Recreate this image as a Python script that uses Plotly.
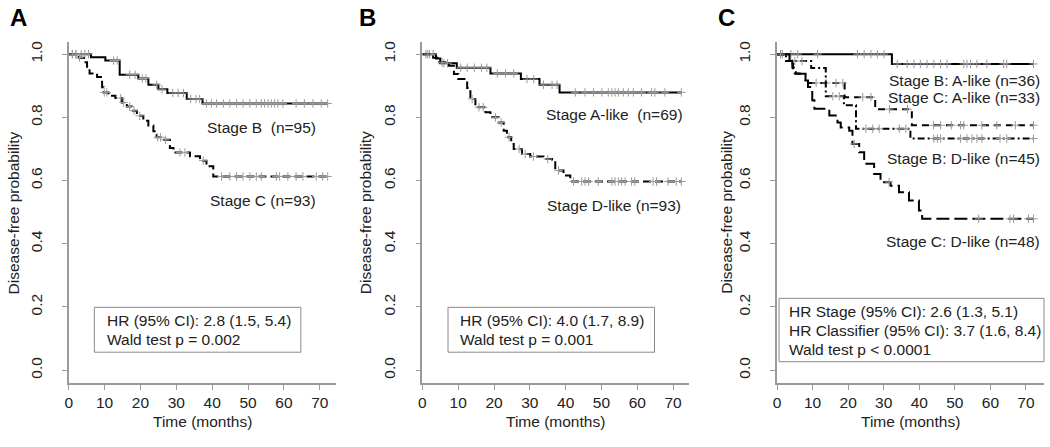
import plotly.graph_objects as go

W, H = 1050, 447
FONT = "Liberation Sans, Arial, sans-serif"
FS = 15.5

# ---------------- data ----------------
# Panel A
a_stageB_t = [6.2, 10.2, 14.2, 19.4, 22.2, 25.0, 27.5, 32.9, 37.3]
a_stageB_s = [0.990, 0.980, 0.935, 0.923, 0.903, 0.889, 0.877, 0.858, 0.844]
a_stageB_c = [1, 2, 3.5, 4.5, 5.5, 12.5, 13.5, 17, 18.5, 20.5, 21.5, 24.5, 26, 29, 30.5,
              32, 34, 35.5, 36.5, 38.4, 39.8, 41.2, 43.1, 44.9, 46.8, 48.6, 50.5, 52.3,
              53.7, 54.6, 55.6, 56.5, 57.4, 58.3, 59.7, 63.4, 65.7, 68.1, 70.4, 72.2]
a_stageC_t = [2.8, 4.2, 5.1, 5.8, 7.9, 9.3, 9.7, 11.1, 13.0, 14.8, 16.2, 17.6, 19.0, 20.8,
              22.2, 23.6, 24.5, 25.9, 28.2, 29.2, 33.8, 36.6, 38.4, 40.3]
a_stageC_s = [0.989, 0.974, 0.960, 0.939, 0.928, 0.895, 0.879, 0.868, 0.861, 0.847, 0.834,
              0.821, 0.805, 0.789, 0.774, 0.756, 0.737, 0.729, 0.703, 0.689, 0.677, 0.663,
              0.645, 0.613]
a_stageC_c = [1, 2, 3, 9.9, 10.6, 14.5, 15.3, 17, 18.2, 19.8, 24.8, 25.6, 27, 31, 32.4, 37.5,
              42.6, 44.9, 46.8, 48.6, 50.5, 52.3, 53.7, 57.9, 58.8, 61.1, 63.4, 65.3, 69,
              70.8, 72.2]
a_end = 72.2

# Panel B
b_alike_t = [3.8, 5.0, 9.6, 19.0, 27.5, 32.7, 38.3]
b_alike_s = [0.986, 0.971, 0.957, 0.939, 0.921, 0.903, 0.879]
b_alike_c = [1, 2, 3, 6, 7, 10.7, 12.5, 14.5, 16.5, 18, 20.9, 23.2, 25.5, 29.2, 31.1, 33.8,
             36.2, 37.6, 42.7, 45.4, 47.8, 50.1, 51.9, 52.9, 53.8, 54.7, 56.1, 57.5, 58.9,
             61.2, 64, 64.9, 67.7, 72.3]
b_dlike_t = [3.0, 4.2, 7.4, 8.8, 10.0, 12.5, 13.4, 14.8, 17.6, 19.0, 21.3, 22.7, 23.6, 24.8,
             25.5, 27.8, 30.1, 33.8, 36.2, 37.1, 39.4, 41.3]
b_dlike_s = [0.989, 0.974, 0.963, 0.937, 0.921, 0.893, 0.858, 0.832, 0.816, 0.800, 0.784,
             0.758, 0.737, 0.716, 0.700, 0.684, 0.676, 0.668, 0.658, 0.632, 0.616, 0.597]
b_dlike_c = [1.5, 5.5, 13.9, 15.8, 17.0, 20.4, 22.0, 24.2, 27, 28.7, 31, 35, 38, 42.2, 44.5,
             45.4, 46.4, 49.1, 52.9, 53.8, 54.7, 55.6, 56.6, 58.4, 59.3, 64.4, 65.4, 68.6,
             70.9, 72.3]
b_end = 72.3

# Panel C
c_BA_t = [32.3]
c_BA_s = [0.969]
c_BA_c = [1, 3.9, 5.8, 11.4, 22.6, 24.5, 26.4, 28.2, 30.1, 33.8, 36.6, 38.5, 40.3, 42.2,
          44.1, 46, 47.8, 52.5, 53.4, 54.4, 56.2, 59, 63.7, 64.6, 72.1]
c_CA_t = [3.5, 4.5, 8.0, 19.0, 27.6, 37.9]
c_CA_s = [0.970, 0.939, 0.909, 0.864, 0.826, 0.775]
c_CA_c = [11, 13.8, 16.6, 18.5, 24.1, 26.4, 31.6, 36.7, 44, 46, 49, 51.6, 52.5, 57.6, 61.8,
          67, 72.1]
c_BD_t = [2.5, 9.6, 13.7, 18.8, 22.2, 37.5]
c_BD_s = [0.978, 0.956, 0.867, 0.838, 0.764, 0.733]
c_BD_c = [1.5, 5, 7, 15.7, 17.5, 25, 26.9, 28.7, 34.4, 36.2, 44.1, 45.1, 46, 51.6, 53.4,
          54.8, 56.2, 57.6, 62.7, 64.6, 72.1]
c_CD_t = [3.3, 4.3, 5.3, 8.0, 8.7, 9.9, 10.5, 14.7, 17.0, 17.9, 20.3, 21.2, 23.1, 24.5,
          27.3, 29.1, 31.9, 34.3, 37.1, 39.9, 40.8]
c_CD_s = [0.979, 0.958, 0.938, 0.917, 0.896, 0.854, 0.827, 0.806, 0.784, 0.768, 0.758,
          0.716, 0.690, 0.653, 0.621, 0.595, 0.584, 0.563, 0.537, 0.505, 0.479]
c_CD_c = [1.0, 21.7, 31.5, 56.7, 65.5, 66.5, 70.7, 72.1]
c_end = 72.1

x_ticks = [0, 10, 20, 30, 40, 50, 60, 70]
y_ticks = [0.0, 0.2, 0.4, 0.6, 0.8, 1.0]
y_ticktext = ["0.0", "0.2", "0.4", "0.6", "0.8", "1.0"]

panel_letters = ["A", "B", "C"]
labels_A = ["Stage B\u00a0 (n=95)", "Stage C (n=93)"]
labels_B = ["Stage A-like\u00a0 (n=69)", "Stage D-like (n=93)"]
labels_C = ["Stage B: A-like (n=36)", "Stage C: A-like (n=33)",
            "Stage B: D-like (n=45)", "Stage C: D-like (n=48)"]
box_A = ["HR (95% CI): 2.8 (1.5, 5.4)", "Wald test p = 0.002"]
box_B = ["HR (95% CI): 4.0 (1.7, 8.9)", "Wald test p = 0.001"]
box_C = ["HR Stage (95% CI): 2.6 (1.3, 5.1)", "HR Classifier (95% CI): 3.7 (1.6, 8.4)",
         "Wald test p < 0.0001"]
y_title = "Disease-free probability"
x_title = "Time (months)"

# ---------------- figure ----------------
fig = go.Figure()


def surv_at(times, surv, t):
    s = 1.0
    for ti, si in zip(times, surv):
        if ti <= t:
            s = si
    return s


def add_curve(times, surv, end, cens, dash, xa, ya):
    xs = [0.0] + list(times) + [end]
    ys = [1.0] + list(surv) + [surv[-1]]
    fig.add_trace(go.Scatter(x=xs, y=ys, mode="lines",
                             line=dict(color="black", width=2, dash=dash, shape="hv"),
                             xaxis=xa, yaxis=ya, hoverinfo="skip", showlegend=False))
    fig.add_trace(go.Scatter(x=cens, y=[surv_at(times, surv, c) for c in cens],
                             mode="markers",
                             marker=dict(symbol="cross-thin", size=6, color="#9a9a9a",
                                         line=dict(color="#9a9a9a", width=1)),
                             xaxis=xa, yaxis=ya, hoverinfo="skip", showlegend=False))


add_curve(a_stageB_t, a_stageB_s, a_end, a_stageB_c, "solid", "x", "y")
add_curve(a_stageC_t, a_stageC_s, a_end, a_stageC_c, "8px,4px", "x", "y")
add_curve(b_alike_t, b_alike_s, b_end, b_alike_c, "solid", "x2", "y2")
add_curve(b_dlike_t, b_dlike_s, b_end, b_dlike_c, "8px,4px", "x2", "y2")
add_curve(c_BA_t, c_BA_s, c_end, c_BA_c, "solid", "x3", "y3")
add_curve(c_CA_t, c_CA_s, c_end, c_CA_c, "7px,5px", "x3", "y3")
add_curve(c_BD_t, c_BD_s, c_end, c_BD_c, "7px,3px,2px,3px", "x3", "y3")
add_curve(c_CD_t, c_CD_s, c_end, c_CD_c, "13px,5px", "x3", "y3")


def px(x):
    return x / W


def py(y):
    return 1 - y / H


y_dom = [py(382.7), py(40.6)]
panels = [(65, 333, 3.6), (420, 688, 3.595), (776, 1044, 3.57)]

axis_common = dict(showline=True, linecolor="#9a9a9a", linewidth=1.5, ticks="outside",
                   ticklen=5, tickcolor="#9a9a9a", tickwidth=1.2, showgrid=False,
                   zeroline=False,
                   tickfont=dict(family=FONT, size=FS, color="#222"))

layout_axes = {}
for i, (l, r, scale) in enumerate(panels):
    sfx = "" if i == 0 else str(i + 1)
    layout_axes["xaxis" + sfx] = dict(axis_common, domain=[px(l), px(r)],
                                      range=[0, (r - l) / scale], tickvals=x_ticks,
                                      anchor="y" + sfx)
    layout_axes["yaxis" + sfx] = dict(axis_common, domain=y_dom, range=[-0.04, 1.04],
                                      tickvals=y_ticks, ticktext=y_ticktext,
                                      tickangle=-90, anchor="x" + sfx,
                                      ticklabelstandoff=14)

annotations = []
# panel letters
for letter, cx in zip(panel_letters, [15, 365, 725]):
    annotations.append(dict(text=letter, x=px(cx), y=py(17), xref="paper", yref="paper",
                            showarrow=False, xanchor="center", yanchor="middle",
                            font=dict(family=FONT, size=24, color="black", weight="bold")))
# axis titles
for (l, r, scale), ytx in zip(panels, [10, 363, 725]):
    annotations.append(dict(text=y_title, x=px(ytx), y=py(212), xref="paper", yref="paper",
                            showarrow=False, textangle=-90, xanchor="center",
                            yanchor="middle", font=dict(family=FONT, size=FS, color="#222")))
    annotations.append(dict(text=x_title, x=px((l + r) / 2), y=py(421), xref="paper",
                            yref="paper", showarrow=False, xanchor="center",
                            yanchor="middle", font=dict(family=FONT, size=FS, color="#222")))

# curve labels (data coordinates of the panel)
curve_label_specs = [
    ("x", "y", labels_A[0], 69.4, 0.768),
    ("x", "y", labels_A[1], 69.4, 0.537),
    ("x2", "y2", labels_B[0], 73.2, 0.808),
    ("x2", "y2", labels_B[1], 72.9, 0.521),
    ("x3", "y3", labels_C[0], 74.5, 0.918),
    ("x3", "y3", labels_C[1], 74.5, 0.863),
    ("x3", "y3", labels_C[2], 74.5, 0.669),
    ("x3", "y3", labels_C[3], 74.5, 0.408),
]
for xr, yr, txt, xx, yy in curve_label_specs:
    annotations.append(dict(text=txt, x=xx, y=yy, xref=xr, yref=yr, showarrow=False,
                            xanchor="right", yanchor="middle",
                            font=dict(family=FONT, size=FS, color="#222")))

# stats boxes
shapes = []
box_specs = [
    (box_A, 90.7, 298, 307, 352, 101.7, [320.7, 339.5]),
    (box_B, 445.7, 653, 307, 352, 456, [320.7, 339.5]),
    (box_C, 778, 1044, 298, 361.5, 786, [310.7, 330, 349]),
]
for lines, x0, x1, y0, y1, tx, tys in box_specs:
    shapes.append(dict(type="rect", xref="paper", yref="paper", x0=px(x0), x1=px(x1),
                       y0=py(y1), y1=py(y0), line=dict(color="#8a8a8a", width=1),
                       fillcolor="rgba(0,0,0,0)"))
    for t, ty in zip(lines, tys):
        annotations.append(dict(text=t, x=px(tx), y=py(ty), xref="paper", yref="paper",
                                showarrow=False, xanchor="left", yanchor="middle",
                                font=dict(family=FONT, size=FS, color="#222")))

fig.update_layout(width=W, height=H, margin=dict(l=0, r=0, t=0, b=0),
                  paper_bgcolor="white", plot_bgcolor="white",
                  annotations=annotations, shapes=shapes, **layout_axes)

# remove the default page margin so the 1050x447 figure fills the window exactly
fig.write_html("out.html", config={"displayModeBar": False},
               post_script="document.body.style.margin='0';")
